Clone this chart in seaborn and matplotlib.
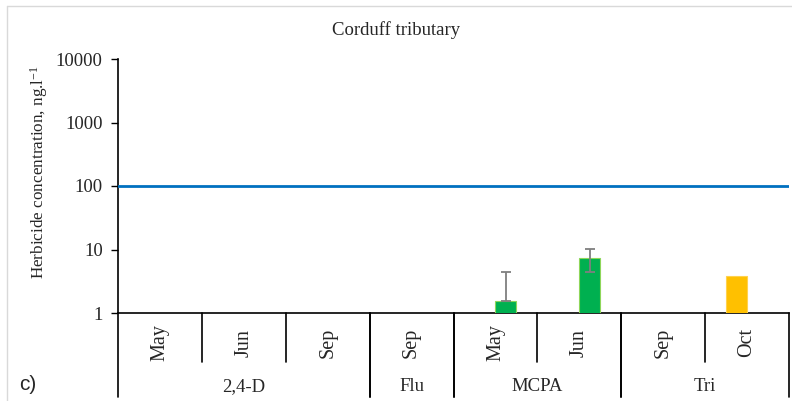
import numpy as np
import pandas as pd
import matplotlib
matplotlib.use('Agg')
import matplotlib.pyplot as plt
import seaborn as sns
from matplotlib.lines import Line2D
from matplotlib.ticker import FixedLocator, FixedFormatter, NullLocator

# data (log scale, ng/l)
herbicides = ['2,4-D', '2,4-D', '2,4-D', 'Flu', 'MCPA', 'MCPA', 'Tri', 'Tri']
months = ['May', 'Jun', 'Sep', 'Sep', 'May', 'Jun', 'Sep', 'Oct']
conc_green = [np.nan, np.nan, np.nan, np.nan, 1.55, 7.3, np.nan, np.nan]
err_green = [np.nan, np.nan, np.nan, np.nan, 2.95, 2.9, np.nan, np.nan]
conc_orange = [np.nan, np.nan, np.nan, np.nan, np.nan, np.nan, np.nan, 3.85]
threshold = 100
y_ticks = [1, 10, 100, 1000, 10000]
title = 'Corduff tributary'
panel = 'c)'

series_order = ['orange', 'green']
colors = {'orange': '#FFC000', 'green': '#00B050'}
edges = {'orange': '#FFD24D', 'green': '#8ED65A'}
bar_w = 0.25

sns.set_theme(style='white')
plt.rcParams['font.family'] = ['Liberation Serif', 'DejaVu Serif']
plt.rcParams['mathtext.fontset'] = 'custom'
plt.rcParams['mathtext.rm'] = 'Liberation Serif'
plt.rcParams['mathtext.default'] = 'regular'

keys = [f'{h}|{m}' for h, m in zip(herbicides, months)]
df = pd.concat([
    pd.DataFrame({'key': keys, 'conc': conc_orange, 'series': 'orange'}),
    pd.DataFrame({'key': keys, 'conc': conc_green, 'series': 'green'}),
]).dropna(subset=['conc'])

fig = plt.figure(figsize=(7.92, 4.01), dpi=100)
ax = fig.add_axes([118 / 792, 1 - 313 / 401, 671 / 792, 254 / 401])
ax.set_yscale('log')

sns.barplot(data=df, x='key', y='conc', hue='series', order=keys,
            hue_order=series_order, palette=colors, saturation=1,
            width=bar_w, gap=0, errorbar=None, legend=False,
            ax=ax, zorder=3)

# clustered-bar slots (Excel style), light edges, errors on green
for p in ax.patches:
    fc = p.get_facecolor()
    name = 'green' if fc[1] > fc[0] else 'orange'
    k = series_order.index(name)
    p.set_x(p.get_x() + (k - (len(series_order) - 1) / 2) * bar_w)
    p.set_edgecolor(edges[name])
    p.set_linewidth(0.8)
    if name != 'green':
        continue
    xc = p.get_x() + p.get_width() / 2
    i = int(round(xc))
    e = err_green[i]
    if np.isfinite(e):
        lo = e if conc_green[i] - e > 0 else 0
        ax.errorbar(xc, conc_green[i], yerr=[[lo], [e]], fmt='none',
                    ecolor='#7F7F7F', elinewidth=1.3, capsize=3.5,
                    capthick=1.3, zorder=4)

ax.axhline(threshold, color='#0070C0', lw=2, zorder=5)

ax.set_ylim(1, 10000)
ax.set_xlim(-0.5, len(keys) - 0.5)
ax.yaxis.set_major_locator(FixedLocator(y_ticks))
ax.yaxis.set_major_formatter(FixedFormatter([str(t) for t in y_ticks]))
ax.yaxis.set_minor_locator(NullLocator())
ax.tick_params(axis='y', left=True, direction='out', length=5, width=1,
               color='black', labelsize=13.5, pad=6)
ax.set_xticks([])
ax.set_xlabel('')
ax.set_ylabel('Herbicide concentration, ng.l$^{-1}$', fontsize=12.3)
ax.yaxis.set_label_coords(-0.101, 0.555)

sns.despine(ax=ax)
for s in ['left', 'bottom']:
    ax.spines[s].set_color('black')
    ax.spines[s].set_linewidth(1.2)

# two-level category axis
tr = ax.get_xaxis_transform()
for i, m in enumerate(months):
    ax.text(i, -0.118, m, rotation=90, ha='center', va='center',
            fontsize=14.5, transform=tr)
    if i > 0 and herbicides[i] == herbicides[i - 1]:
        ax.plot([i - 0.5, i - 0.5], [0, -0.193], color='black', lw=1.2,
                transform=tr, clip_on=False)

groups = []
for i, h in enumerate(herbicides):
    if not groups or groups[-1][0] != h:
        groups.append([h, i, i])
    else:
        groups[-1][2] = i
for h, a, b in groups:
    ax.text((a + b) / 2, -0.29, h, ha='center', va='center',
            fontsize=13.5, transform=tr)
    for xb in (a - 0.5, b + 0.5):
        ax.plot([xb, xb], [0, -0.331], color='black', lw=1.2,
                transform=tr, clip_on=False)

fig.text(0.5, 1 - 30 / 401, title, ha='center', va='center', fontsize=13.5)
fig.text(19 / 792, 1 - 385 / 401, panel, ha='left', va='center',
         fontsize=15, family=['Liberation Sans', 'DejaVu Sans'])

# faint chart border
fig.add_artist(Line2D([7 / 792, 1], [1 - 6 / 401, 1 - 6 / 401],
                      color='#D9D9D9', lw=1, transform=fig.transFigure))
fig.add_artist(Line2D([7 / 792, 7 / 792], [0, 1 - 6 / 401],
                      color='#D9D9D9', lw=1, transform=fig.transFigure))

fig.savefig('out.png', dpi=100)
